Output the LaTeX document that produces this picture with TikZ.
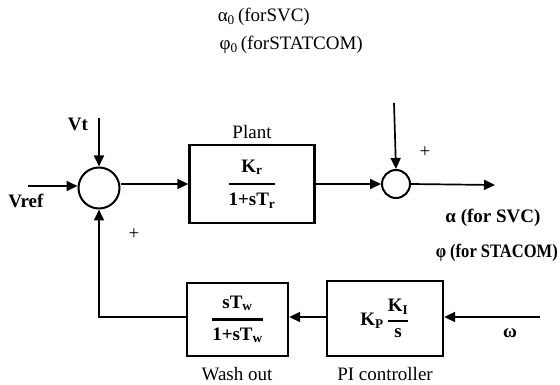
\documentclass[tikz,border=0pt]{standalone}
\usepackage{amsmath}
\usepackage{fontspec}
\setmainfont{Liberation Serif}
\usetikzlibrary{arrows.meta}
\newcommand{\bsub}[2]{\textbf{#1}\textsubscript{\textbf{#2}}}
\begin{document}
\begin{tikzpicture}[x=1pt,y=-1pt,
  font=\fontsize{19}{22}\selectfont,
  conn/.style={line width=1.7pt,-{Triangle[length=11pt,width=10pt]}},
  blockbox/.style={draw,line width=2.3pt,inner sep=0pt,minimum width=#1},
  sumnode/.style={draw,circle,line width=2pt,inner sep=0pt,minimum size=#1},
  lbl/.style={inner sep=0pt}
]
\useasboundingbox (0,0) rectangle (560,385);
% top texts
\node[lbl,anchor=base east] (t1) at (310,22) {α\textsubscript{0}\,(forSVC)};
\node[lbl,anchor=base east] (t2) at (363,50) {φ\textsubscript{0}\,(forSTATCOM)};
% summing junctions
\node[sumnode=41pt] (sum1) at (99,188) {};
\node[sumnode=28pt] (sum2) at (396,184) {};
% blocks
\node[blockbox=125pt,minimum height=78pt] (plant) at (252,184)
  {$\genfrac{}{}{2.6pt}{0}{\text{\bsub{K}{r}}}{\text{\bsub{1+sT}{r}}}$};
\node[blockbox=101pt,minimum height=73pt] (wash) at (237.5,319.5)
  {$\genfrac{}{}{2.4pt}{0}{\text{\bsub{sT}{w}}}{\text{\bsub{1+sT}{w}}}$};
\node[blockbox=116pt,minimum height=75pt] (pi) at (385,318.5)
  {$\text{\bsub{K}{P}}\,\genfrac{}{}{2pt}{0}{\text{\bsub{K}{I}}}{\text{\textbf{s}}}$};
% free ends
\coordinate (vrefin) at (28,186);
\coordinate (vtin) at (99,118);
\coordinate (tin) at (394,103);
\coordinate (out) at (495,185);
\coordinate (win) at (540,317);
% connectors
\draw[conn] (vrefin) -- (vrefin -| sum1.west);
\draw[conn] (vtin) -- (sum1.north);
\draw[conn] (sum1.east |- plant.west) -- (plant.west);
\draw[conn] (plant.east) -- (sum2.west);
\draw[conn] (tin) -- (sum2.north);
\draw[conn] (sum2.east) -- (out);
\draw[conn] (win) -- (win -| pi.east);
\draw[conn] (pi.west |- win) -- (wash.east |- win);
\draw[conn] (wash.west |- win) -| (sum1.south);
% labels
\node[lbl] (plantlbl) at (252,132) {Plant};
\node[lbl] (vtlbl) at (78,124) {\textbf{Vt}};
\node[lbl] (vreflbl) at (26,201) {\textbf{Vref}};
\node[lbl] (plus1) at (134,234) {+};
\node[lbl] (plus2) at (425,152) {+};
\node[lbl] (alphalbl) at (493,218) {\textbf{α (for SVC)}};
\node[lbl,anchor=east] (philbl) at (558,253) {\scalebox{0.87}[1]{\textbf{φ (for STACOM)}}};
\node[lbl] (omegalbl) at (510,333) {\textbf{ω}};
\node[lbl,anchor=base] (washlbl) at (237,380) {Wash out};
\node[lbl,anchor=base] (pilbl) at (385,380) {PI controller};
\end{tikzpicture}
\end{document}
